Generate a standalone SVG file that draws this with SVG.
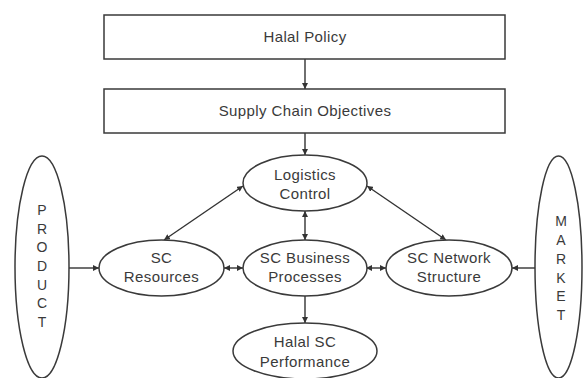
<svg xmlns="http://www.w3.org/2000/svg" width="583" height="378" viewBox="0 0 583 378">
<style>
.box{fill:#fff;stroke:#3a3a3a;stroke-width:1.5}
.el{fill:#fff;stroke:#3a3a3a;stroke-width:1.5}
.t{font-family:"Liberation Sans",Arial,sans-serif;font-size:15px;letter-spacing:0.4px;fill:#3a3a3a;text-anchor:middle}
.v{font-family:"Liberation Sans",Arial,sans-serif;font-size:14px;fill:#3a3a3a;text-anchor:middle}
.c{fill:none;stroke:#333;stroke-width:1.4}
</style>
<defs>
<marker id="ah" viewBox="0 0 10 10" refX="10" refY="5" markerWidth="6" markerHeight="6" markerUnits="userSpaceOnUse" orient="auto-start-reverse">
<path d="M0,0 L10,5 L0,10 z" fill="#333"/>
</marker>
</defs>
<rect width="583" height="378" fill="#fff"/>
<g id="connectors">
<line class="c" x1="305" y1="59" x2="305" y2="89" marker-end="url(#ah)"/>
<line class="c" x1="305" y1="133" x2="305" y2="155" marker-end="url(#ah)"/>
<line class="c" x1="243" y1="186" x2="164" y2="240" marker-start="url(#ah)" marker-end="url(#ah)"/>
<line class="c" x1="367" y1="186" x2="446" y2="240" marker-start="url(#ah)" marker-end="url(#ah)"/>
<line class="c" x1="305" y1="211" x2="305" y2="240" marker-start="url(#ah)" marker-end="url(#ah)"/>
<line class="c" x1="224" y1="268" x2="243" y2="268" marker-start="url(#ah)" marker-end="url(#ah)"/>
<line class="c" x1="366" y1="268" x2="386" y2="268" marker-start="url(#ah)" marker-end="url(#ah)"/>
<line class="c" x1="305" y1="296" x2="305" y2="323" marker-end="url(#ah)"/>
<line class="c" x1="69" y1="268" x2="99" y2="268" marker-end="url(#ah)"/>
<line class="c" x1="535" y1="268" x2="512" y2="268" marker-end="url(#ah)"/>
</g>
<g id="halal-policy">
<rect class="box" x="104" y="15" width="401" height="44"/>
<text class="t" x="305" y="42">Halal Policy</text>
</g>
<g id="supply-chain-objectives">
<rect class="box" x="104" y="89" width="401" height="44"/>
<text class="t" x="305" y="116">Supply Chain Objectives</text>
</g>
<g id="logistics-control">
<ellipse class="el" cx="305" cy="183" rx="62" ry="28"/>
<text class="t" x="305" y="180">Logistics</text>
<text class="t" x="305" y="199">Control</text>
</g>
<g id="sc-business-processes">
<ellipse class="el" cx="305" cy="268" rx="62" ry="28"/>
<text class="t" x="305" y="263">SC Business</text>
<text class="t" x="305" y="282">Processes</text>
</g>
<g id="sc-resources">
<ellipse class="el" cx="161.5" cy="268" rx="62.5" ry="28"/>
<text class="t" x="161.5" y="263">SC</text>
<text class="t" x="161.5" y="282">Resources</text>
</g>
<g id="sc-network-structure">
<ellipse class="el" cx="449" cy="268" rx="63" ry="28"/>
<text class="t" x="449" y="263">SC Network</text>
<text class="t" x="449" y="282">Structure</text>
</g>
<g id="halal-sc-performance">
<ellipse class="el" cx="305" cy="351" rx="72" ry="28"/>
<text class="t" x="305" y="347">Halal SC</text>
<text class="t" x="305" y="367">Performance</text>
</g>
<g id="product">
<ellipse class="el" cx="42" cy="267" rx="27" ry="111"/>
<text class="v" x="42" y="215">P</text>
<text class="v" x="42" y="234">R</text>
<text class="v" x="42" y="252">O</text>
<text class="v" x="42" y="271">D</text>
<text class="v" x="42" y="290">U</text>
<text class="v" x="42" y="308">C</text>
<text class="v" x="42" y="327">T</text>
</g>
<g id="market">
<ellipse class="el" cx="558.5" cy="267" rx="23.5" ry="111"/>
<text class="v" x="561" y="226">M</text>
<text class="v" x="561" y="245">A</text>
<text class="v" x="561" y="264">R</text>
<text class="v" x="561" y="283">K</text>
<text class="v" x="561" y="301">E</text>
<text class="v" x="561" y="320">T</text>
</g>
</svg>
